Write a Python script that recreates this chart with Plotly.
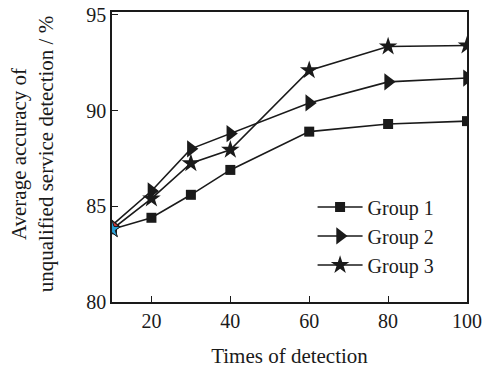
import plotly.graph_objects as go

times = [10, 20, 30, 40, 60, 80, 100]
group1 = [83.8, 84.4, 85.6, 86.9, 88.9, 89.3, 89.45]
group2 = [84.0, 85.8, 88.0, 88.8, 90.4, 91.5, 91.7]
group3 = [83.8, 85.4, 87.25, 87.95, 92.1, 93.35, 93.4]
series_names = ["Group 1", "Group 2", "Group 3"]
x_ticks = [20, 40, 60, 80, 100]
y_ticks = [80, 85, 90, 95]

ink = "#1a1a1a"
font = "Liberation Serif"

fig = go.Figure()
fig.add_trace(go.Scatter(
    x=times, y=group1, name=series_names[0], mode="lines+markers",
    line=dict(color=ink, width=1.6),
    marker=dict(symbol="square", size=10, color=ink),
))
fig.add_trace(go.Scatter(
    x=times, y=group2, name=series_names[1], mode="lines+markers",
    line=dict(color=ink, width=1.6),
    marker=dict(symbol="triangle-right", size=15, color=ink),
))
fig.add_trace(go.Scatter(
    x=times, y=group3, name=series_names[2], mode="lines+markers",
    line=dict(color=ink, width=1.6),
    marker=dict(symbol="star", size=14, color=ink),
))
# coloured first points (as in the reference image)
fig.add_trace(go.Scatter(
    x=times[:1], y=group2[:1], mode="markers", showlegend=False, hoverinfo="skip",
    marker=dict(symbol="triangle-right", size=11, color="#d23a3a"),
))
fig.add_trace(go.Scatter(
    x=times[:1], y=group3[:1], mode="markers", showlegend=False, hoverinfo="skip",
    marker=dict(symbol="star", size=13, color="#2a9fd6", line=dict(color=ink, width=1)),
))

fig.update_layout(
    width=495, height=370,
    margin=dict(l=112, r=28, t=12, b=68),
    paper_bgcolor="white", plot_bgcolor="white",
    font=dict(family=font, size=20, color=ink),
    showlegend=True,
    legend=dict(x=0.565, y=0.395, xanchor="left", yanchor="top",
                bgcolor="rgba(0,0,0,0)", font=dict(family=font, size=20),
                itemwidth=45, tracegroupgap=0),
    xaxis=dict(range=[10, 100], tickvals=x_ticks, ticks="inside", ticklen=6,
               tickcolor=ink, showline=True, linecolor=ink, linewidth=1.6,
               mirror=True, showgrid=False, zeroline=False, automargin=False,
               ticklabeloverflow="allow",
               title=dict(text="Times of detection", standoff=18,
                          font=dict(family=font, size=21)),
               tickfont=dict(family=font, size=20)),
    yaxis=dict(range=[80, 95.15], tickvals=y_ticks, ticks="inside", ticklen=6,
               tickcolor=ink, showline=True, linecolor=ink, linewidth=1.6,
               mirror=True, showgrid=False, zeroline=False, automargin=False,
               ticklabeloverflow="allow",
               tickfont=dict(family=font, size=20)),
    annotations=[dict(
        text="Average accuracy of<br>unqualified service detection / %",
        xref="paper", yref="paper", x=-0.225, y=0.51,
        xanchor="center", yanchor="middle", textangle=-90,
        showarrow=False, font=dict(family=font, size=21, color=ink),
    )],
)

fig.write_html("out.html", config={"displayModeBar": False},
               post_script="document.body.style.margin='0';")
